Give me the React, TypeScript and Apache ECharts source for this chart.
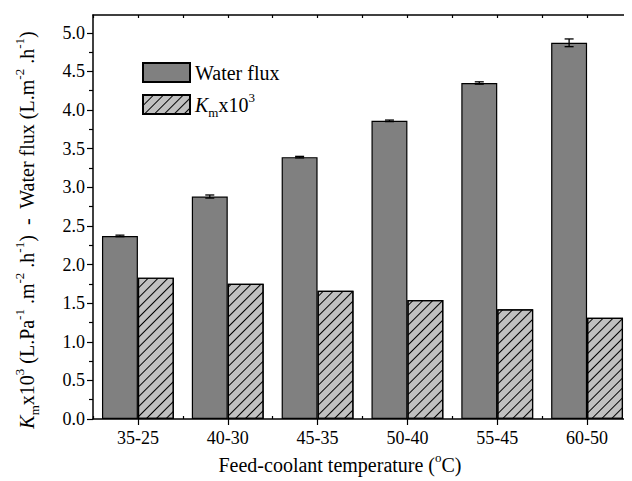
import React, { useEffect, useRef } from "react";
import * as echarts from "echarts";

const categories = ["35-25", "40-30", "45-35", "50-40", "55-45", "60-50"];
const waterFlux = [2.37, 2.88, 3.39, 3.86, 4.35, 4.87];
const waterFluxErr = [0.01, 0.02, 0.01, 0.01, 0.015, 0.05];
const kmValues = [1.83, 1.75, 1.66, 1.54, 1.42, 1.31];
const yTicks = [0, 0.5, 1, 1.5, 2, 2.5, 3, 3.5, 4, 4.5, 5];

const FONT = "Liberation Serif";

export default function App() {
  const ref = useRef<HTMLDivElement>(null);
  useEffect(() => {
    if (!ref.current) return;
    const chart = echarts.init(ref.current, null, { renderer: "svg" });
    const hatch = {
      symbol: "rect",
      symbolSize: 1,
      dashArrayX: [1, 0],
      dashArrayY: [1, 6],
      rotation: -Math.PI / 4,
      color: "#000",
    };
    const baseX = { type: "category", data: categories, boundaryGap: true };
    const subStyle = { fontFamily: FONT, fontSize: 13, color: "#000", verticalAlign: "bottom", lineHeight: 13 };
    const supStyle = { fontFamily: FONT, fontSize: 13, color: "#000", verticalAlign: "top", lineHeight: 13 };
    const option: any = {
      animation: false,
      backgroundColor: "#fff",
      grid: { left: 93, right: -7, top: 15, bottom: 62, containLabel: false },
      legend: {
        orient: "vertical",
        left: 137,
        top: 53.5,
        itemWidth: 47,
        itemHeight: 19,
        itemGap: 4,
        itemTextGap: 6,
        icon: "rect",
        selectedMode: false,
        data: ["Water flux", "Km"],
        formatter: (name: string) => (name === "Km" ? "{i|K}{sub|m}x10{sup|3}" : "Water flux"),
        textStyle: {
          fontFamily: FONT,
          fontSize: 20,
          lineHeight: 28,
          color: "#000",
          rich: {
            i: { fontFamily: FONT, fontSize: 20, fontStyle: "italic", color: "#000", lineHeight: 28 },
            sub: subStyle,
            sup: supStyle,
          },
        },
      },
      xAxis: [
        {
          ...baseX,
          position: "bottom",
          axisLine: { show: true, lineStyle: { color: "#000", width: 1.5 } },
          axisTick: { show: true, alignWithLabel: true, length: 6, lineStyle: { color: "#000", width: 1.2 } },
          axisLabel: { fontFamily: FONT, fontSize: 18, color: "#000", margin: 10 },
          splitLine: { show: false },
        },
        {
          ...baseX,
          position: "bottom",
          axisLine: { show: false },
          axisTick: { show: true, inside: true, length: 3, lineStyle: { color: "#000", width: 1.2 } },
          axisLabel: { show: false },
          splitLine: { show: false },
        },
        {
          ...baseX,
          position: "top",
          axisLine: { show: true, lineStyle: { color: "#000", width: 1.5 } },
          axisTick: { show: true, inside: true, length: 3, lineStyle: { color: "#000", width: 1.2 } },
          axisLabel: { show: false },
          splitLine: { show: false },
        },
        {
          ...baseX,
          position: "top",
          axisLine: { show: false },
          axisTick: { show: true, inside: true, alignWithLabel: true, length: 3, lineStyle: { color: "#000", width: 1.2 } },
          axisLabel: { show: false },
          splitLine: { show: false },
        },
      ],
      yAxis: {
        type: "value",
        min: 0,
        max: 5.23,
        interval: 0.5,
        axisLine: { show: true, lineStyle: { color: "#000", width: 1.5 } },
        axisTick: { show: true, length: 6, customValues: yTicks, lineStyle: { color: "#000", width: 1.2 } },
        minorTick: { show: true, splitNumber: 2, length: 4, lineStyle: { color: "#000", width: 1.2 } },
        axisLabel: {
          customValues: yTicks,
          fontFamily: FONT,
          fontSize: 18,
          color: "#000",
          margin: 8,
          formatter: (v: number) => v.toFixed(1),
        },
        splitLine: { show: false },
      },
      graphic: [
        {
          type: "text",
          x: 27,
          y: 230,
          rotation: Math.PI / 2,
          style: {
            text: "{i|K}{sub|m}x10{sup|3} (L.Pa{sup|-1} .m{sup|-2} .h{sup|-1})  -  Water flux (L.m{sup|-2} .h{sup|-1})",
            align: "center",
            verticalAlign: "middle",
            fontFamily: FONT,
            fontSize: 20,
            lineHeight: 28,
            fill: "#000",
            rich: {
              i: { fontFamily: FONT, fontSize: 20, fontStyle: "italic", fill: "#000", lineHeight: 28 },
              sub: { ...subStyle, fill: "#000" },
              sup: { ...supStyle, fill: "#000" },
            },
          },
        },
        {
          type: "text",
          x: 340,
          y: 465,
          style: {
            text: "Feed-coolant temperature ({sup|o}C)",
            align: "center",
            verticalAlign: "middle",
            fontFamily: FONT,
            fontSize: 20,
            lineHeight: 28,
            fill: "#000",
            rich: { sup: { ...supStyle, fill: "#000" } },
          },
        },
      ],
      series: [
        {
          name: "Water flux",
          type: "bar",
          xAxisIndex: 0,
          data: waterFlux,
          barCategoryGap: "20%",
          barGap: "0%",
          itemStyle: { color: "#808080", borderColor: "#000", borderWidth: 1.2 },
        },
        {
          name: "Km",
          type: "bar",
          xAxisIndex: 0,
          data: kmValues,
          barCategoryGap: "20%",
          barGap: "0%",
          itemStyle: { color: "#c0c0c0", borderColor: "#000", borderWidth: 1.2, decal: hatch },
        },
        {
          name: "err",
          type: "custom",
          xAxisIndex: 0,
          data: waterFlux.map((v, i) => [i, v, waterFluxErr[i]]),
          encode: { x: 0, y: 1 },
          z: 10,
          renderItem: (params: any, api: any) => {
            const i = api.value(0);
            const v = api.value(1);
            const e = api.value(2);
            const band = api.size([1, 0])[0];
            const c = api.coord([i, v]);
            const cx = c[0] - band * 0.2;
            const yt = api.coord([i, v + e])[1];
            const yb = api.coord([i, v - e])[1];
            const hw = 4.5;
            const st = { stroke: "#000", lineWidth: 1.3 };
            return {
              type: "group",
              children: [
                { type: "line", shape: { x1: cx, y1: yt, x2: cx, y2: yb }, style: st },
                { type: "line", shape: { x1: cx - hw, y1: yt, x2: cx + hw, y2: yt }, style: st },
                { type: "line", shape: { x1: cx - hw, y1: yb, x2: cx + hw, y2: yb }, style: st },
              ],
            };
          },
        },
      ],
    };
    chart.setOption(option);
    return () => chart.dispose();
  }, []);
  return (
    <div style={{ marginTop: -8, marginLeft: -8 }}>
      <style>{"svg text, svg tspan { font-family: 'Liberation Serif', 'Times New Roman', serif !important; }"}</style>
      <div ref={ref} style={{ width: 632, height: 481, background: "#fff" }} />
    </div>
  );
}
